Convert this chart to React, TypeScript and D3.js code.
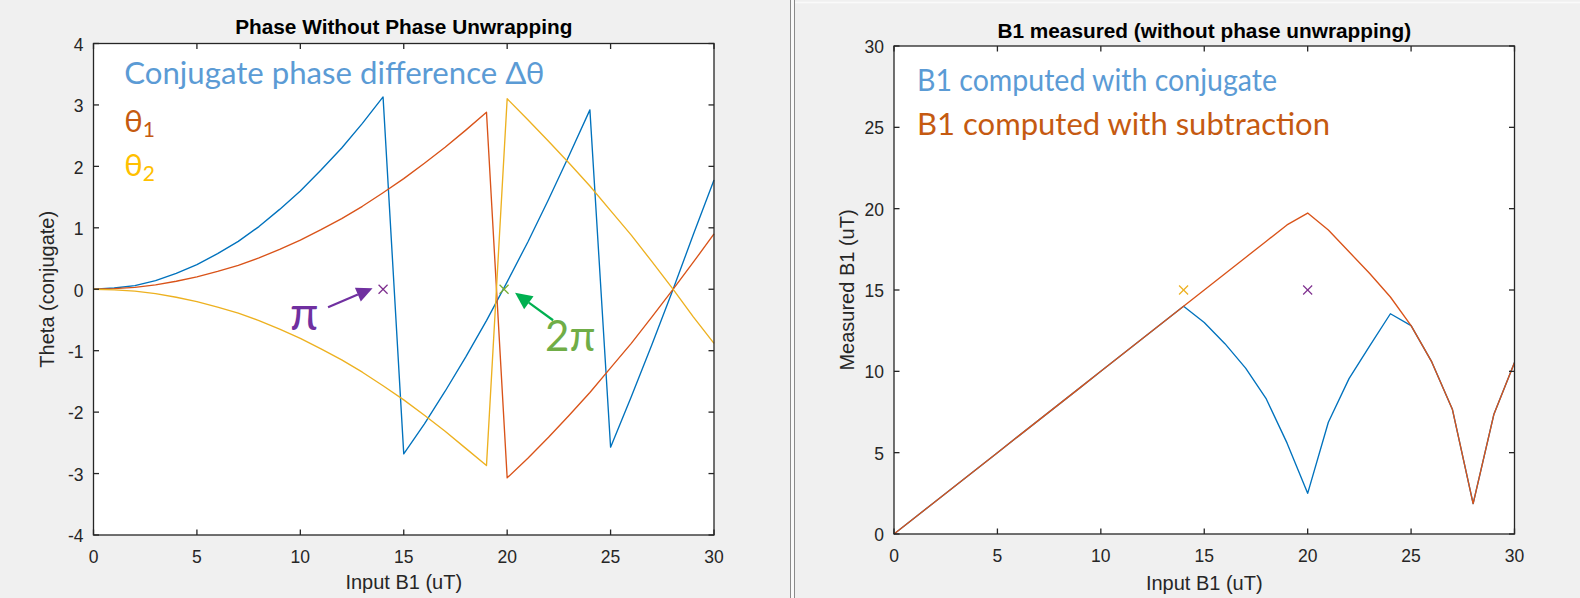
import React from 'react';
import * as d3 from 'd3';

// ---------- data ----------
const inputB1 = [0, 1, 2, 3, 4, 5, 6, 7, 8, 9, 10, 11, 12, 13, 14, 15, 16, 17, 18, 19, 20, 21, 22, 23, 24, 25, 26, 27, 28, 29, 30];

const conjPhaseDiff = [0, 0.02, 0.06, 0.14, 0.26, 0.40, 0.58, 0.78, 1.02, 1.30, 1.60, 1.94, 2.30, 2.70, 3.13, -2.68, -2.19, -1.66, -1.10, -0.51, 0.12, 0.77, 1.46, 2.18, 2.92, -2.57, -1.75, -0.90, -0.02, 0.89, 1.78];
const theta1 = [0, 0.01, 0.03, 0.07, 0.13, 0.20, 0.29, 0.39, 0.51, 0.65, 0.80, 0.97, 1.15, 1.35, 1.57, 1.80, 2.05, 2.31, 2.59, 2.88, -3.07, -2.75, -2.41, -2.05, -1.68, -1.28, -0.88, -0.45, -0.01, 0.44, 0.90];
const theta2 = [0, -0.01, -0.03, -0.07, -0.13, -0.20, -0.29, -0.39, -0.51, -0.65, -0.80, -0.97, -1.15, -1.35, -1.57, -1.80, -2.05, -2.31, -2.59, -2.87, 3.10, 2.76, 2.41, 2.05, 1.68, 1.28, 0.88, 0.45, 0.01, -0.45, -0.88];

const measuredConj = [0, 1, 2, 3, 4, 5, 6, 7, 8, 9, 10, 11, 12, 13, 14, 13.0, 11.7, 10.2, 8.3, 5.6, 2.5, 6.87, 9.55, 11.57, 13.54, 12.81, 10.58, 7.65, 1.87, 7.34, 10.54];
const measuredSub = [0, 1, 2, 3, 4, 5, 6, 7, 8, 9, 10, 11, 12, 13, 14, 15, 16, 17, 18, 19, 19.73, 18.69, 17.35, 16.01, 14.57, 12.81, 10.58, 7.65, 1.87, 7.34, 10.54];

const xTicks = [0, 5, 10, 15, 20, 25, 30];
const leftYTicks = [-4, -3, -2, -1, 0, 1, 2, 3, 4];
const rightYTicks = [0, 5, 10, 15, 20, 25, 30];

const leftMarkerX = [14, 19.85];
const leftMarkerY = [0, 0];
const rightMarkerX = [14, 20];
const rightMarkerY = [15, 15];

// ---------- styles ----------
const C_BLUE = '#0072BD';
const C_ORANGE = '#D95319';
const C_YELLOW = '#EDB120';
const C_PURPLE = '#7E2F8E';
const C_GREEN = '#77AC30';
const AX = '#262626';
const FONT = "'Liberation Sans', Arial, Helvetica, sans-serif";
const AFONT = "Lato, 'Noto Sans', 'DejaVu Sans', sans-serif";

type Box = { x0: number; x1: number; y0: number; y1: number };

function Cross({ x, y, color }: { x: number; y: number; color: string }) {
  const s = 4.5;
  return (
    <g stroke={color} strokeWidth={1.2}>
      <line x1={x - s} y1={y - s} x2={x + s} y2={y + s} />
      <line x1={x - s} y1={y + s} x2={x + s} y2={y - s} />
    </g>
  );
}

function Arrow({ x1, y1, x2, y2, color, head = 16, hw = 7 }: any) {
  const dx = x2 - x1, dy = y2 - y1;
  const L = Math.hypot(dx, dy);
  const ux = dx / L, uy = dy / L;
  const bx = x2 - ux * head, by = y2 - uy * head;
  const px = -uy, py = ux;
  return (
    <g>
      <line x1={x1} y1={y1} x2={bx} y2={by} stroke={color} strokeWidth={2.2} />
      <polygon points={`${x2},${y2} ${bx + px * hw},${by + py * hw} ${bx - px * hw},${by - py * hw}`} fill={color} />
    </g>
  );
}

function Panel({ box, yDomain, yTicks, series, title, titleY, ylabel, xlabelY, yLabDy, children }: any) {
  const b: Box = box;
  const xs = d3.scaleLinear().domain([0, 30]).range([b.x0, b.x1]);
  const ys = d3.scaleLinear().domain(yDomain).range([b.y1, b.y0]);
  const line = d3.line<number>().x((_, i) => xs(inputB1[i])).y((d) => ys(d));
  const cx = (b.x0 + b.x1) / 2;
  const cy = (b.y0 + b.y1) / 2;
  const tl = 5.5;
  return (
    <g>
      <rect x={b.x0} y={b.y0} width={b.x1 - b.x0} height={b.y1 - b.y0} fill="#fff" />
      {series.map((s: any, i: number) => (
        <path key={i} d={line(s.values) || ''} fill="none" stroke={s.color} strokeWidth={1.35} strokeLinejoin="round" />
      ))}
      {children && children(xs, ys)}
      <g stroke={AX} strokeWidth={1.3}>
        {xTicks.map((t) => (
          <g key={'xt' + t}>
            <line x1={xs(t)} x2={xs(t)} y1={b.y1} y2={b.y1 - tl} />
            <line x1={xs(t)} x2={xs(t)} y1={b.y0} y2={b.y0 + tl} />
          </g>
        ))}
        {yTicks.map((t: number) => (
          <g key={'yt' + t}>
            <line x1={b.x0} x2={b.x0 + tl} y1={ys(t)} y2={ys(t)} />
            <line x1={b.x1} x2={b.x1 - tl} y1={ys(t)} y2={ys(t)} />
          </g>
        ))}
        <rect x={b.x0} y={b.y0} width={b.x1 - b.x0} height={b.y1 - b.y0} fill="none" />
      </g>
      <g fontFamily={FONT} fontSize={17.5} fill={AX}>
        {xTicks.map((t) => (
          <text key={'xl' + t} x={xs(t)} y={b.y1 + 28} textAnchor="middle">{t}</text>
        ))}
        {yTicks.map((t: number) => (
          <text key={'yl' + t} x={b.x0 - 10} y={ys(t) + yLabDy} textAnchor="end">{t}</text>
        ))}
      </g>
      <text x={cx} y={xlabelY} textAnchor="middle" fontFamily={FONT} fontSize={20} fill={AX}>Input B1 (uT)</text>
      <text transform={`translate(${b.x0 - 40},${cy}) rotate(-90)`} textAnchor="middle" fontFamily={FONT} fontSize={20} fill={AX}>{ylabel}</text>
      <text x={cx} y={titleY} textAnchor="middle" fontFamily={FONT} fontSize={20.8} fontWeight="bold" fill="#000">{title}</text>
    </g>
  );
}

export default function App() {
  const W = 1580, H = 598;
  const leftBox: Box = { x0: 93.5, x1: 714, y0: 43.5, y1: 535 };
  const rightBox: Box = { x0: 894, x1: 1514.5, y0: 46, y1: 534 };
  return (
    <svg width={W} height={H} style={{ position: 'absolute', left: 0, top: 0, display: 'block' }}>
      <rect x={0} y={0} width={W} height={H} fill="#f0f0f0" />
      {/* divider */}
      <rect x={790} y={0} width={5} height={H} fill="#fafafa" />
      <line x1={790.5} x2={790.5} y1={0} y2={H} stroke="#8a8a8a" strokeWidth={1} />
      <line x1={794.5} x2={794.5} y1={0} y2={H} stroke="#8a8a8a" strokeWidth={1} />
      <line x1={795} x2={W} y1={2.5} y2={2.5} stroke="#fafafa" strokeWidth={1.5} />

      <Panel
        box={leftBox}
        yDomain={[-4, 4]}
        yTicks={leftYTicks}
        series={[
          { values: conjPhaseDiff, color: C_BLUE },
          { values: theta1, color: C_ORANGE },
          { values: theta2, color: C_YELLOW },
        ]}
        title="Phase Without Phase Unwrapping"
        titleY={34.3}
        ylabel="Theta (conjugate)"
        xlabelY={589}
        yLabDy={7.3}
      >
        {(xs: any, ys: any) => (
          <g>
            <Cross x={xs(leftMarkerX[0])} y={ys(leftMarkerY[0])} color={C_PURPLE} />
            <Cross x={xs(leftMarkerX[1])} y={ys(leftMarkerY[1])} color={C_GREEN} />
            <Arrow x1={xs(leftMarkerX[0]) - 55} y1={ys(0) + 18} x2={xs(leftMarkerX[0]) - 10.5} y2={ys(0) - 1} color="#7030A0" head={16} hw={7.5} />
            <Arrow x1={xs(leftMarkerX[1]) + 49} y1={ys(0) + 31} x2={xs(leftMarkerX[1]) + 11} y2={ys(0) + 3.5} color="#00B050" head={17} hw={8} />
            <text x={xs(leftMarkerX[0]) - 93} y={ys(0) + 40.5} fontFamily={AFONT} fontSize={46} fill="#7030A0">π</text>
            <text x={xs(leftMarkerX[1]) + 41} y={ys(0) + 62} fontFamily={AFONT} fontSize={42} fill="#70AD47">2π</text>
            <g fontFamily={AFONT}>
              <text x={124.3} y={83.5} fontSize={31} fill="#5B9BD5" textLength={420} lengthAdjust="spacingAndGlyphs">Conjugate phase difference Δθ</text>
              <text x={124.3} y={132} fontSize={31} fill="#C55A11">θ<tspan fontSize={21} dy={5}>1</tspan></text>
              <text x={124.3} y={175.5} fontSize={31} fill="#FFC000">θ<tspan fontSize={21} dy={5}>2</tspan></text>
            </g>
          </g>
        )}
      </Panel>

      <Panel
        box={rightBox}
        yDomain={[0, 30]}
        yTicks={rightYTicks}
        series={[
          { values: measuredConj, color: C_BLUE },
          { values: measuredSub, color: C_ORANGE },
        ]}
        title="B1 measured (without phase unwrapping)"
        titleY={37.5}
        ylabel="Measured B1 (uT)"
        xlabelY={590}
        yLabDy={7}
      >
        {(xs: any, ys: any) => (
          <g>
            <Cross x={xs(rightMarkerX[0])} y={ys(rightMarkerY[0])} color={C_YELLOW} />
            <Cross x={xs(rightMarkerX[1])} y={ys(rightMarkerY[1])} color={C_PURPLE} />
            <g fontFamily={AFONT} fontSize={31}>
              <text x={917} y={90.5} fill="#5B9BD5" textLength={360} lengthAdjust="spacingAndGlyphs">B1 computed with conjugate</text>
              <text x={917} y={134.5} fill="#C55A11" textLength={413} lengthAdjust="spacingAndGlyphs">B1 computed with subtraction</text>
            </g>
          </g>
        )}
      </Panel>
    </svg>
  );
}
